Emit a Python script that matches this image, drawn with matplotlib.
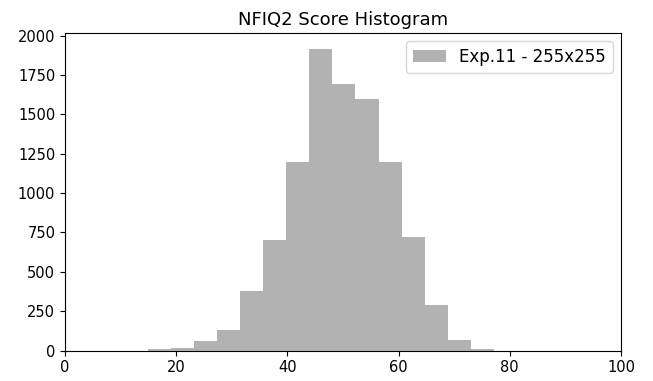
import numpy as np
import matplotlib
matplotlib.use('Agg')
import matplotlib.pyplot as plt

# bin edges and counts
bin_edges = [14.9, 19.05, 23.2, 27.35, 31.5, 35.65, 39.8, 43.95, 48.1,
             52.25, 56.4, 60.55, 64.7, 68.85, 73.0, 77.15]
counts = [8, 18, 59, 133, 380, 700, 1200, 1917, 1695, 1597, 1200, 720, 290, 64, 12]
label = 'Exp.11 - 255x255'
x_ticks = [0, 20, 40, 60, 80, 100]

def main():
    fig = plt.figure(figsize=(6.53, 3.81), dpi=100)
    ax = fig.add_axes([0.0995, 0.080, 0.8515, 0.833])
    ax.hist(bin_edges[:-1], bins=bin_edges, weights=counts,
            color='gray', alpha=0.6, label=label)
    ax.set_xlim(0, 100)
    ax.set_ylim(0, 2016)
    ax.set_xticks(x_ticks)
    ax.tick_params(labelsize=10.5)
    ax.set_title('NFIQ2 Score Histogram', fontsize=13)
    ax.legend(loc='upper right', fontsize=12)
    fig.savefig('out.png', dpi=100)

main()
